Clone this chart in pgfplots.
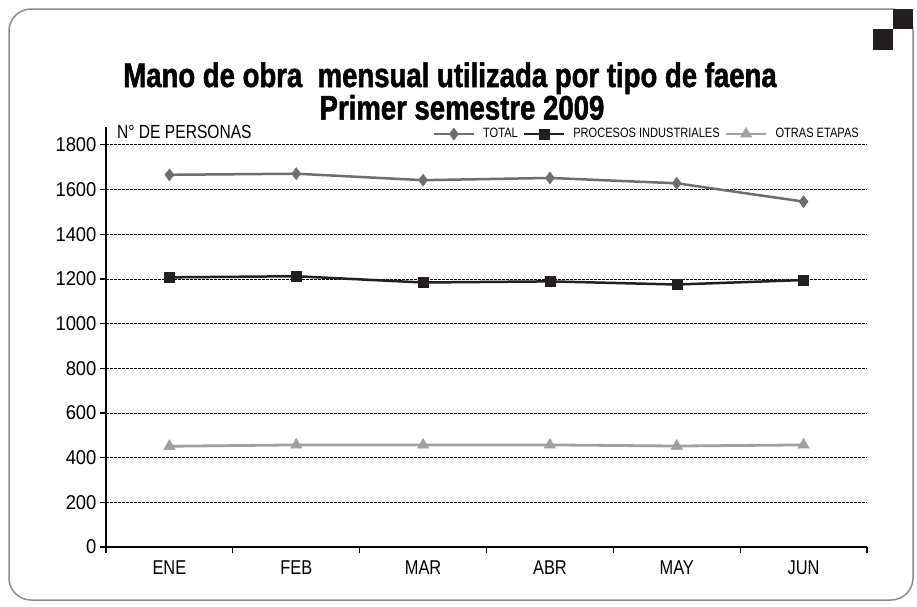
\documentclass[border=0pt]{standalone}
\usepackage{pgfplots}
\pgfplotsset{compat=1.18}
\usepackage{fontspec}
\setmainfont[FakeStretch=0.82]{Liberation Sans}
\newfontfamily\tickfont[FakeStretch=0.92]{Liberation Sans}
\newfontfamily\titlefont[FakeStretch=0.81, FakeBold=1.5]{Liberation Sans Bold}
\definecolor{cTot}{HTML}{6E6E6E}
\definecolor{cPro}{HTML}{231F20}
\definecolor{cOtr}{HTML}{A0A0A0}
\definecolor{cFrame}{HTML}{8C8C8C}
\begin{document}
\begin{tikzpicture}[x=1pt,y=1pt]
\useasboundingbox (0,0) rectangle (917,-606);
\fill[white] (0,0) rectangle (917,-606);
\draw[cFrame, line width=1.5pt, rounded corners=22pt] (9,-9) rectangle (913,-600);
\fill[cPro] (893,-9) rectangle (913,-29);
\fill[cPro] (873,-29) rectangle (893,-50);
\node[font=\titlefont\fontsize{34}{34}\selectfont, anchor=base, inner sep=0pt] at (450,-87) {Mano de obra\ \ mensual utilizada por tipo de faena};
\node[font=\titlefont\fontsize{34}{34}\selectfont, anchor=base, inner sep=0pt] at (462,-119.5) {Primer semestre 2009};
\node[font=\fontsize{19}{19}\selectfont, anchor=west, inner sep=0pt] at (117,-132) {N° DE PERSONAS};
\begin{axis}[
  at={(106pt,-547pt)}, anchor=south west,
  width=761pt, height=420pt, scale only axis,
  xmin=-0.5, xmax=5.5, ymin=0, ymax=1880,
  axis x line=bottom, axis y line=left,
  axis line style={line width=1.2pt, -},
  tick align=outside, major tick length=6pt,
  tick style={line width=1.2pt, black},
  ytick={0,200,...,1800},
  yticklabel style={font=\tickfont\fontsize{20}{20}\selectfont, /pgf/number format/assume math mode=true, /pgf/number format/1000 sep={}},
  ymajorgrids,
  major grid style={line width=0.8pt, dash pattern=on 2.5pt off 1.5pt, black},
  xtick={-0.5,0.5,...,5.5}, xticklabels={},
  extra x ticks={0,1,2,3,4,5},
  extra x tick labels={ENE,FEB,MAR,ABR,MAY,JUN},
  extra x tick style={tick style={draw=none}, xticklabel style={font=\fontsize{20}{20}\selectfont, yshift=-4pt}},
  legend columns=3,
  legend style={at={(rel axis cs:0.9934,1.004)}, anchor=north east, draw=none, fill=none, inner sep=1pt,
    font=\fontsize{13.5}{13.5}\selectfont,
    /tikz/every even column/.append style={column sep=3pt},
    /tikz/every odd column/.append style={column sep=6pt}},
  legend image code/.code={\draw[mark repeat=2, mark phase=2] plot coordinates {(0pt,0pt) (20pt,0pt) (40pt,0pt)};},
  clip=false,
]
\addplot[cTot, line width=2.5pt, mark=diamond*, mark size=6pt, mark options={solid, line width=0.5pt}]
  coordinates {(0,1666) (1,1671) (2,1642) (3,1652) (4,1628) (5,1546)};
\addlegendentry{TOTAL}
\addplot[cPro, line width=2.5pt, mark=square*, mark size=5pt, mark options={solid, line width=0.5pt}]
  coordinates {(0,1207) (1,1212) (2,1184) (3,1189) (4,1175) (5,1195)};
\addlegendentry{PROCESOS INDUSTRIALES}
\addplot[cOtr, line width=2.8pt, mark=triangle*, mark size=6.5pt, mark options={solid, line width=0.5pt}]
  coordinates {(0,451) (1,457) (2,457) (3,457) (4,452) (5,457)};
\addlegendentry{OTRAS ETAPAS}
\end{axis}
\end{tikzpicture}
\end{document}
